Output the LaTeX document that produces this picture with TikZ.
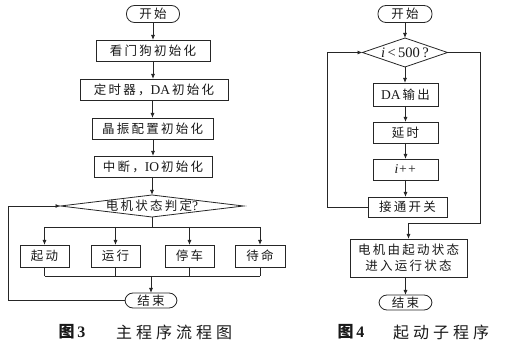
\documentclass[tikz,border=0pt]{standalone}
\usepackage{fontspec}
\setmainfont{Liberation Serif}
\newfontfamily\cjk[LetterSpace=18]{Noto Sans CJK SC}
\newfontfamily\cjkcap[LetterSpace=25]{Noto Sans CJK SC}
\newcommand\latn[1]{{\fontsize{13.5}{16}\selectfont #1}}
\usetikzlibrary{arrows.meta,calc}
\begin{document}
\begin{tikzpicture}[x=1pt,y=-1pt,
  every node/.style={inner sep=0pt, outer sep=0pt, font=\fontsize{12.5}{16}\selectfont, text=black!90},
  box/.style={draw=black!85, line width=0.8pt, minimum height=21pt},
  term/.style={draw=black!85, line width=0.8pt, rounded corners=8pt, minimum height=17pt},
  ln/.style={line width=0.8pt, draw=black!85},
  arr/.style={ln, -{Latex[length=5pt,width=4pt]}},
  captext/.style={font=\fontsize{16}{18}\selectfont}
]
\useasboundingbox (0,0) rectangle (520,358);
% ---------- left chart ----------
\node[term, minimum width=53pt] (s1) at (153,14) {\cjk 开始};
\node[box, minimum width=114pt] (a1) at (153,50.5) {\cjk 看门狗初始化};
\node[box, minimum width=148pt] (a2) at (154,89.5) {{\cjk 定时器，}\latn{DA}\,{\cjk 初始化}};
\node[box, minimum width=121pt] (a3) at (152.5,128.5) {\cjk 晶振配置初始化};
\node[box, minimum width=118pt] (a4) at (153,166.5) {{\cjk 中断，}\latn{IO}\,{\cjk 初始化}};
\node[minimum width=183pt, minimum height=22pt] (d1) at (152,206) {{\cjk 电机状态判定}\latn{?}};
\draw[ln] (d1.west) -- (d1.north) -- (d1.east) -- (d1.south) -- cycle;
\node[box, minimum width=49pt, minimum height=22pt] (b1) at (44.5,256) {\cjk 起动};
\node[box, minimum width=49pt, minimum height=22pt] (b2) at (115.5,256) {\cjk 运行};
\node[box, minimum width=49pt, minimum height=22pt] (b3) at (189.5,256) {\cjk 停车};
\node[box, minimum width=50pt, minimum height=22pt] (b4) at (260,256) {\cjk 待命};
\node[term, minimum width=52pt, minimum height=15pt] (e1) at (151,300.5) {\cjk 结束};
\coordinate (bus1) at (0,227);
\coordinate (bus2) at (0,276);
\coordinate (lp1) at (8,0);
\draw[arr] (s1) -- (a1);
\draw[arr] (a1) -- (a2.north -| a1.south);
\draw[arr] (a2.south -| a3.north) -- (a3);
\draw[arr] (a3.south -| a4.north) -- (a4);
\draw[arr] (a4.south -| d1.north) -- (d1.north);
\draw[ln] (d1.south) -- (d1.south |- bus1);
\draw[ln] (b1.north |- bus1) -- (b4.north |- bus1);
\foreach \b in {b1,b2,b3,b4}{
  \draw[arr] (\b.north |- bus1) -- (\b.north);
  \draw[ln] (\b.south) -- (\b.south |- bus2);
}
\draw[ln] (b1.south |- bus2) -- (b4.south |- bus2);
\draw[arr] (e1.north |- bus2) -- (e1.north);
\draw[arr] (e1.west) -- (e1.west -| lp1) -- (lp1 |- d1.west) -- (d1.west);
\node[captext] (f3) at (72,332) {\bfseries{\cjkcap 图}\,3};
\node[captext] (c3) at (174,332) {\cjkcap 主程序流程图};
% ---------- right chart ----------
\node[term, minimum width=54pt] (s2) at (405,14) {\cjk 开始};
\node[minimum width=85pt, minimum height=29pt] (d2) at (405,52.5) {{\fontsize{14.5}{16}\selectfont\itshape i\upshape\,<\,500\,?}};
\draw[ln] (d2.west) -- (d2.north) -- (d2.east) -- (d2.south) -- cycle;
\node[box, minimum width=65pt, minimum height=23pt] (r1) at (405.5,94.5) {\latn{DA}\,{\cjk 输出}};
\node[box, minimum width=65pt] (r2) at (405.5,132.5) {\cjk 延时};
\node[box, minimum width=65pt] (r3) at (405.5,169.5) {\latn{\itshape i++}};
\node[box, minimum width=79pt, minimum height=20pt] (r4) at (407.5,207) {\cjk 接通开关};
\node[box, minimum width=117pt, minimum height=38pt, align=center] (r5) at (408.5,258) {\cjk 电机由起动状态\\\cjk 进入运行状态};
\node[term, minimum width=53pt, minimum height=15pt] (e2) at (405.5,302.5) {\cjk 结束};
\coordinate (lp2) at (327,0);
\coordinate (rp2) at (480,223);
\draw[arr] (s2) -- (d2.north);
\draw[arr] (d2.south) -- (r1.north -| d2.south);
\draw[arr] (r1.south -| r2.north) -- (r2);
\draw[arr] (r2) -- (r3);
\draw[arr] (r3.south) -- (r3.south |- r4.north);
\draw[arr] (r4.west) -- (r4.west -| lp2) -- (lp2 |- d2.west) -- (d2.west);
\draw[arr] (d2.east) -- (d2.east -| rp2) -- (rp2) -- (rp2 -| r5.north) -- (r5.north);
\draw[arr] (e2.north |- r5.south) -- (e2.north);
\node[captext] (f4) at (351,332) {\bfseries{\cjkcap 图}\,4};
\node[captext] (c4) at (441,332) {\cjkcap 起动子程序};
\end{tikzpicture}
\end{document}
